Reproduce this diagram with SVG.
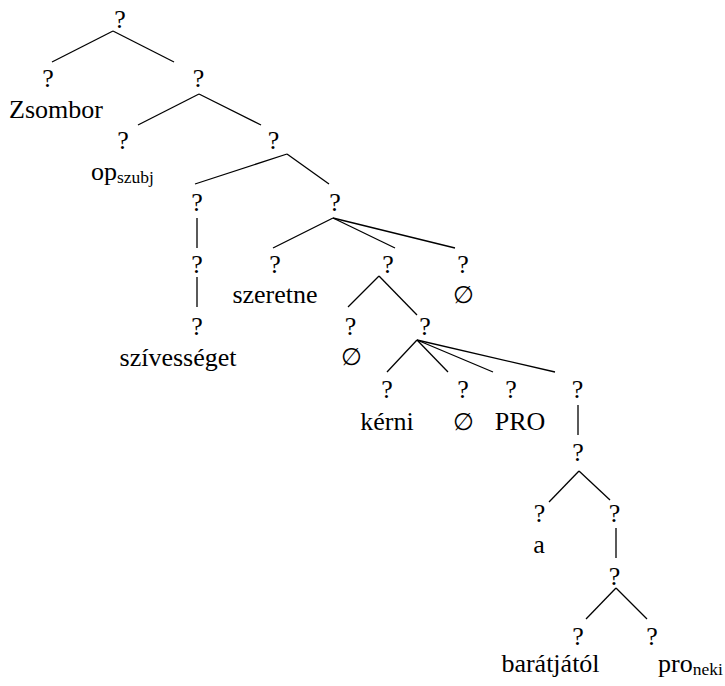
<svg xmlns="http://www.w3.org/2000/svg" width="725" height="686" viewBox="0 0 725 686">
<style>
text{font-family:"Liberation Serif","Times New Roman",serif;font-size:26px;fill:#000;text-anchor:middle}
.l{text-anchor:start}
.sub{font-size:17.5px}
.e{font-size:24px}
#edges line{stroke:#000;stroke-width:1.3;fill:none}
</style>
<rect width="725" height="686" fill="#fff"/>
<g id="edges">
<line x1="113" y1="31" x2="52" y2="62"/>
<line x1="113" y1="31" x2="174" y2="62"/>
<line x1="199" y1="94" x2="138" y2="125"/>
<line x1="199" y1="94" x2="261" y2="125"/>
<line x1="287" y1="154" x2="195" y2="184"/>
<line x1="287" y1="154" x2="329" y2="184"/>
<line x1="197" y1="218" x2="197" y2="248"/>
<line x1="197" y1="277" x2="197" y2="307"/>
<line x1="333" y1="218" x2="273" y2="248"/>
<line x1="333" y1="218" x2="395" y2="248"/>
<line x1="333" y1="218" x2="455" y2="248"/>
<line x1="379" y1="276" x2="348" y2="307"/>
<line x1="379" y1="276" x2="417" y2="315"/>
<line x1="417" y1="340" x2="387" y2="372"/>
<line x1="417" y1="340" x2="448" y2="372"/>
<line x1="417" y1="340" x2="493" y2="372"/>
<line x1="417" y1="340" x2="555" y2="372"/>
<line x1="578" y1="405" x2="578" y2="435"/>
<line x1="579" y1="471" x2="549" y2="502"/>
<line x1="579" y1="471" x2="610" y2="500"/>
<line x1="616" y1="528" x2="616" y2="558"/>
<line x1="616" y1="588" x2="586" y2="619"/>
<line x1="616" y1="588" x2="647" y2="619"/>
</g>
<g id="n-root"><text x="120" y="28">?</text></g>
<g id="n-zsombor"><text x="48" y="87">?</text><text x="56" y="118">Zsombor</text></g>
<g id="n1"><text x="198.5" y="87">?</text></g>
<g id="n-op"><text x="123" y="149">?</text><text class="l" x="91" y="180">op<tspan class="sub" dy="3">szubj</tspan></text></g>
<g id="n2"><text x="273.5" y="149">?</text></g>
<g id="n3"><text x="197" y="211">?</text></g>
<g id="n3b"><text x="197" y="273">?</text></g>
<g id="n-szivesseget"><text x="197" y="335">?</text><text x="178" y="366">szívességet</text></g>
<g id="n4"><text x="335" y="211">?</text></g>
<g id="n-szeretne"><text x="275" y="273">?</text><text x="275" y="303">szeretne</text></g>
<g id="n5"><text x="388" y="273">?</text></g>
<g id="n-empty1"><text x="463" y="273">?</text><text class="e" x="463" y="303">∅</text></g>
<g id="n-empty2"><text x="350.5" y="335">?</text><text class="e" x="351" y="365">∅</text></g>
<g id="n6"><text x="425" y="335">?</text></g>
<g id="n-kerni"><text x="387" y="398">?</text><text x="387" y="430">kérni</text></g>
<g id="n-empty3"><text x="463" y="398">?</text><text class="e" x="463" y="430">∅</text></g>
<g id="n-pro"><text x="511" y="398">?</text><text x="520" y="430">PRO</text></g>
<g id="n7"><text x="577.5" y="398">?</text></g>
<g id="n8"><text x="578" y="461">?</text></g>
<g id="n-a"><text x="539.5" y="522">?</text><text x="539" y="553">a</text></g>
<g id="n9"><text x="614.5" y="522">?</text></g>
<g id="n10"><text x="614.5" y="585">?</text></g>
<g id="n-baratjatol"><text x="578" y="645">?</text><text x="550.5" y="672">barátjától</text></g>
<g id="n-proneki"><text x="652" y="645">?</text><text class="l" x="658" y="672">pro<tspan class="sub" dy="3">neki</tspan></text></g>
</svg>
